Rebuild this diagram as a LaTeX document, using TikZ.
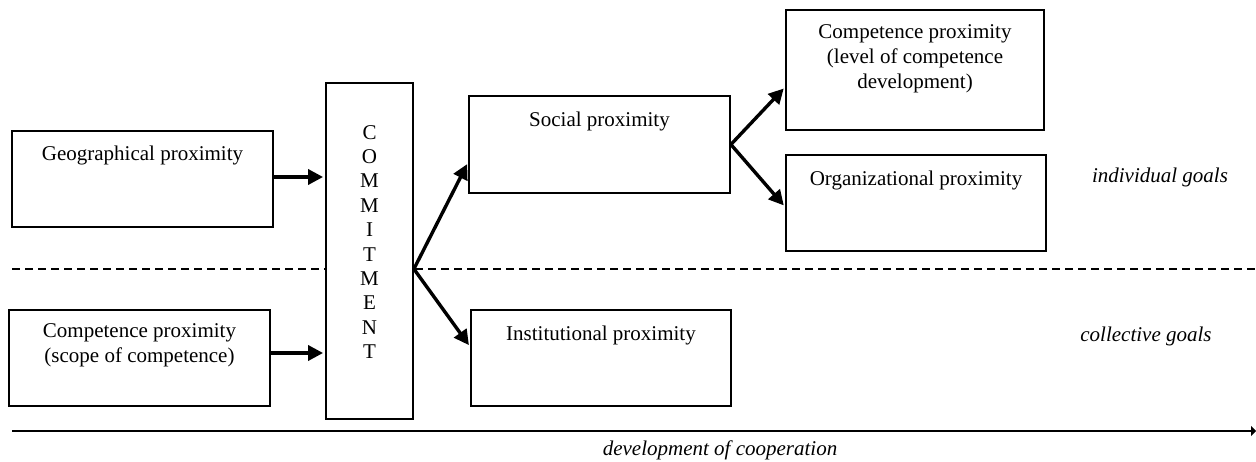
\documentclass[tikz,border=0pt]{standalone}
\usepackage{fontspec}
\setmainfont{Liberation Serif}
\usetikzlibrary{arrows.meta,calc}
\begin{document}
\begin{tikzpicture}[x=1pt,y=-1pt,
  box/.style={draw, line width=1.8pt, fill=white, inner sep=0pt},
  lab/.style={anchor=north, align=center, inner sep=0pt},
  arr/.style={line width=3.4pt, shorten >=2pt, -{Triangle[length=15pt,width=15pt]}},
  dashln/.style={line width=1.5pt, dash pattern=on 8pt off 5pt},
  goal/.style={font=\fontsize{21}{25.5}\selectfont\itshape, inner sep=0pt},
  every node/.append style={font=\fontsize{21}{25}\selectfont}]
\useasboundingbox (0,0) rectangle (1256,462);
% dashed separator
\coordinate (dl) at (12,269);
\coordinate (dr) at (1256,269);
\draw[dashln] (dl) -- (dr);
% boxes
\node[box, minimum width=261pt, minimum height=96pt,
  label={[lab, yshift=-16pt]north:Geographical proximity}] (geo) at (142.5,179) {};
\node[box, minimum width=261pt, minimum height=96pt,
  label={[lab, yshift=-14pt]north:Competence proximity\\(scope of competence)}] (scope) at (139.5,358) {};
\node[box, minimum width=87pt, minimum height=336pt] (commit) at (369.5,251) {};
\node[inner sep=0pt, align=center, font=\fontsize{21}{24.4}\selectfont] (letters) at ($(commit.center)+(0,-9)$)
  {C\\O\\M\\M\\I\\T\\M\\E\\N\\T};
\node[box, minimum width=261pt, minimum height=97pt,
  label={[lab, yshift=-17pt]north:Social proximity}] (social) at (599.5,144.5) {};
\node[box, minimum width=258pt, minimum height=120pt,
  label={[lab, yshift=-15pt]north:Competence proximity\\(level of competence\\development)}] (complev) at (915,70) {};
\node[box, minimum width=260pt, minimum height=96pt,
  label={[lab, yshift=-17pt]north:Organizational proximity}] (org) at (916,203) {};
\node[box, minimum width=260pt, minimum height=96pt,
  label={[lab, yshift=-17pt]north:Institutional proximity}] (inst) at (601,358) {};
% goals
\node[goal] (indiv) at (1160,177) {individual goals};
\node[goal] (coll) at (1146,336) {collective goals};
% arrows
\draw[arr] (geo.east |- 0,177) -- (commit.west |- 0,177);
\draw[arr] (scope.east |- 0,353) -- (commit.west |- 0,353);
\coordinate (cb) at (commit.east |- 0,269);
\draw[arr] (cb) -- ($(social.north west)!0.68!(social.south west)$);
\draw[arr] (cb) -- ($(inst.north west)!0.385!(inst.south west)$);
\coordinate (sb) at (social.east);
\draw[arr] (sb) -- ($(complev.north west)!0.64!(complev.south west)$);
\draw[arr] (sb) -- ($(org.north west)!0.54!(org.south west)$);
% bottom axis
\coordinate (al) at (12,431);
\coordinate (ar) at (1256,431);
\draw[line width=2.7pt, -{Triangle[length=5pt,width=10pt]}] (al) -- (ar);
\node[goal] (dev) at (720,450) {development of cooperation};
\end{tikzpicture}
\end{document}
